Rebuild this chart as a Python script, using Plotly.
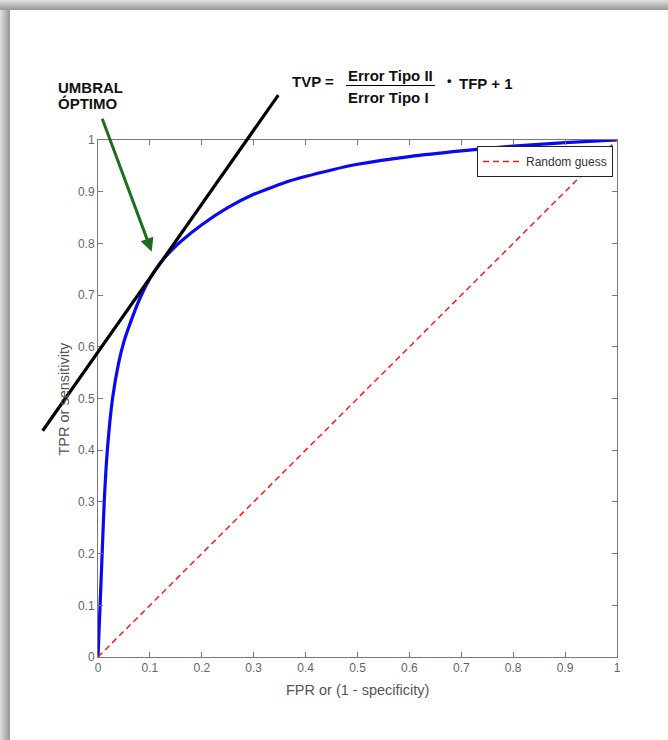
import plotly.graph_objects as go

# ---- data ----
FPR = [0, 0.004, 0.008, 0.012, 0.018, 0.028, 0.04, 0.05, 0.06, 0.08, 0.10,
       0.12, 0.14, 0.16, 0.20, 0.25, 0.30, 0.37, 0.45, 0.50, 0.60, 0.70,
       0.80, 0.90, 1.0]
TPR = [0, 0.10, 0.20, 0.30, 0.40, 0.50, 0.57, 0.61, 0.64, 0.692, 0.732,
       0.762, 0.785, 0.804, 0.836, 0.869, 0.895, 0.921, 0.942, 0.953, 0.968, 0.979,
       0.988, 0.995, 1.0]
RANDOM_X = [0, 1]
RANDOM_Y = [0, 1]
TICK_VALS = [0, 0.1, 0.2, 0.3, 0.4, 0.5, 0.6, 0.7, 0.8, 0.9, 1]
TICK_TEXT = ["0", "0.1", "0.2", "0.3", "0.4", "0.5", "0.6", "0.7", "0.8", "0.9", "1"]
TANGENT_X = [-0.1066, 0.3474]
TANGENT_SLOPE = 1.43
TANGENT_INTERCEPT = 0.590
ARROW_TAIL = (0.0071, 1.044)
ARROW_TIP = (0.1035, 0.784)

W, H = 668, 740
L, R, T, B = 98, 51, 140, 83
PW, PH = W - L - R, H - T - B


def px(x):
    return (x - L) / PW


def py(y):
    return (H - B - y) / PH


fig = go.Figure()
fig.add_trace(go.Scatter(x=FPR, y=TPR, mode="lines",
                         line=dict(color="#0a0af0", width=3.2, shape="spline", smoothing=0.5),
                         showlegend=False, hoverinfo="skip"))
fig.add_trace(go.Scatter(x=RANDOM_X, y=RANDOM_Y, mode="lines", name="Random guess",
                         line=dict(color="#ff1a1a", width=1.5, dash="6px,4px")))

shapes = []
# shadow frame (top and left)
for i in range(10):
    g = int(0xdd - (0xdd - 0x9a) * (i / 9))
    col = "rgb(%d,%d,%d)" % (g, g, g)
    shapes.append(dict(type="rect", xref="paper", yref="paper",
                       x0=px(0), x1=px(W), y0=py(i), y1=py(i + 1),
                       fillcolor=col, line=dict(width=0), layer="below"))
    shapes.append(dict(type="rect", xref="paper", yref="paper",
                       x0=px(i), x1=px(i + 1), y0=py(i), y1=py(H),
                       fillcolor=col, line=dict(width=0), layer="below"))

# tangent line (extends beyond plot area; paper coords equal data coords here)
ty = [TANGENT_INTERCEPT + TANGENT_SLOPE * x for x in TANGENT_X]
shapes.append(dict(type="line", xref="paper", yref="paper",
                   x0=TANGENT_X[0], y0=ty[0], x1=TANGENT_X[1], y1=ty[1],
                   line=dict(color="black", width=3.2)))
# fraction bar
shapes.append(dict(type="line", xref="paper", yref="paper",
                   x0=px(346), x1=px(435), y0=py(85.5), y1=py(85.5),
                   line=dict(color="black", width=1.2)))

bold = dict(family="Arial, Liberation Sans, sans-serif", size=15, color="#111")
ann = [
    dict(x=px(56), y=py(87), xref="paper", yref="paper", text="<b>UMBRAL</b>",
         showarrow=False, xanchor="left", yanchor="middle", font=bold),
    dict(x=px(56), y=py(103), xref="paper", yref="paper", text="<b>ÓPTIMO</b>",
         showarrow=False, xanchor="left", yanchor="middle", font=bold),
    dict(x=px(290), y=py(82), xref="paper", yref="paper", text="<b>TVP =</b>",
         showarrow=False, xanchor="left", yanchor="middle", font=bold),
    dict(x=px(346), y=py(76), xref="paper", yref="paper", text="<b>Error Tipo II</b>",
         showarrow=False, xanchor="left", yanchor="middle", font=bold),
    dict(x=px(346), y=py(98), xref="paper", yref="paper", text="<b>Error Tipo I</b>",
         showarrow=False, xanchor="left", yanchor="middle", font=bold),
    dict(x=px(445), y=py(80), xref="paper", yref="paper", text="<b>•</b>",
         showarrow=False, xanchor="left", yanchor="middle",
         font=dict(family="Arial, Liberation Sans, sans-serif", size=13, color="#111")),
    dict(x=px(457), y=py(83), xref="paper", yref="paper", text="<b>TFP + 1</b>",
         showarrow=False, xanchor="left", yanchor="middle", font=bold),
    dict(x=0.5, y=py(690), xref="paper", yref="paper", text="FPR or (1 - specificity)",
         showarrow=False, xanchor="center", yanchor="middle",
         font=dict(family="Arial, Liberation Sans, sans-serif", size=14.5, color="#555")),
    dict(x=px(63), y=0.5, xref="paper", yref="paper", text="TPR or sensitivity",
         showarrow=False, xanchor="center", yanchor="middle", textangle=-90,
         font=dict(family="Arial, Liberation Sans, sans-serif", size=14.5, color="#555")),
    dict(x=ARROW_TIP[0], y=ARROW_TIP[1], xref="x", yref="y",
         ax=ARROW_TAIL[0], ay=ARROW_TAIL[1], axref="x", ayref="y",
         showarrow=True, arrowhead=2, arrowsize=0.9, arrowwidth=3,
         arrowcolor="#1f6e1f", text=""),
]

axis_common = dict(range=[0, 1], tickvals=TICK_VALS, ticktext=TICK_TEXT,
                   showline=True, linecolor="#777", linewidth=1, mirror="ticks",
                   ticks="inside", ticklen=5, tickcolor="#777", tickwidth=1,
                   showgrid=False, zeroline=False,
                   tickfont=dict(family="Arial, Liberation Sans, sans-serif", size=12, color="#666"))

fig.update_layout(
    width=W, height=H,
    margin=dict(l=L, r=R, t=T, b=B, pad=0),
    paper_bgcolor="white", plot_bgcolor="white",
    xaxis=axis_common, yaxis=axis_common,
    shapes=shapes, annotations=ann,
    legend=dict(x=px(613), y=py(146), xanchor="right", yanchor="top",
                bgcolor="white", bordercolor="#222", borderwidth=1,
                font=dict(family="Arial, Liberation Sans, sans-serif", size=12, color="#333"),
                itemwidth=38, tracegroupgap=0),
    showlegend=True,
)

fig.write_html("out.html")
